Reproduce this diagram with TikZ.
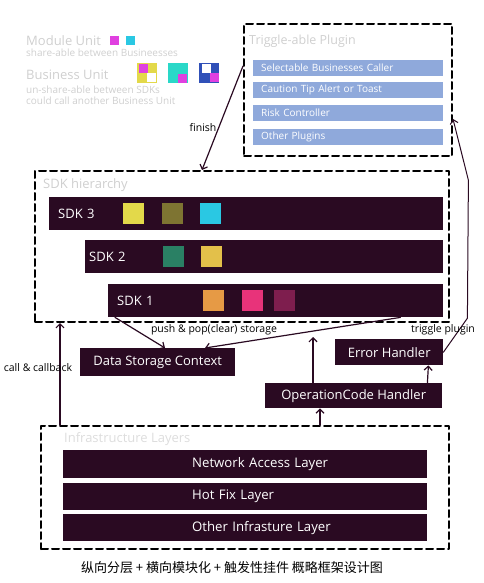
\documentclass[tikz,border=0pt]{standalone}
\usepackage{fontspec}
\setmainfont{Open Sans}
\newfontfamily\cjk{Noto Sans CJK SC}
\usetikzlibrary{arrows.meta}

\definecolor{barpurple}{HTML}{2A0A22}
\definecolor{pluginblue}{HTML}{8FA9DB}
\definecolor{softgray}{HTML}{CFCFCF}
\definecolor{unityellow}{HTML}{E3D94A}
\definecolor{unitolive}{HTML}{7E7432}
\definecolor{unitcyan}{HTML}{2AC8E3}
\definecolor{unitgreen}{HTML}{2A8064}
\definecolor{unitgold}{HTML}{E3C04A}
\definecolor{unitorange}{HTML}{E69A45}
\definecolor{unitpink}{HTML}{E8337A}
\definecolor{unitmaroon}{HTML}{7E1E4E}
\definecolor{unitmagenta}{HTML}{E040E0}
\definecolor{unitteal}{HTML}{2AD8C8}
\definecolor{unitblue}{HTML}{3050B8}

\begin{document}
\begin{tikzpicture}[x=1pt,y=-1pt,>={Straight Barb[length=4pt,width=8pt]},line cap=round,line join=round,
  grp/.style={draw=black,line width=2pt,dash pattern=on 7pt off 4pt,anchor=north west,inner sep=0pt},
  grptitle/.style={text=softgray,anchor=west,inner sep=0pt,font=\fontsize{13}{15}\selectfont},
  box/.style={fill=barpurple,text=white,anchor=north west,inner sep=0pt,font=\fontsize{13}{15}\selectfont},
  sdkbar/.style={box,minimum height=33pt,inner xsep=9pt,align=left},
  infrabar/.style={box,minimum width=364pt,text width=356pt,inner xsep=4pt,align=left,
    font=\fontsize{13.2}{15}\selectfont,execute at begin node={\hspace*{125pt}}},
  plugbar/.style={fill=pluginblue,text=white,anchor=north west,minimum height=16pt,inner sep=0pt,
    inner xsep=8pt,text width=174pt,align=left,font=\fontsize{10}{12}\selectfont},
  unit/.style={fill=#1,minimum size=21pt,anchor=north west,inner sep=0pt},
  mini/.style={fill=#1,minimum size=8.5pt,anchor=north west,inner sep=0pt},
  note/.style={font=\fontsize{10.5}{12}\selectfont,inner sep=0pt},
  legendnote/.style={text=softgray,inner sep=0pt,font=\fontsize{10}{10.5}\selectfont},
  link/.style={->,draw=barpurple,line width=1.2pt}]
\useasboundingbox (0,0) rectangle (484,583);

% legend
\node[grptitle] (modlabel) at (26,41) {Module Unit};
\node[mini=unitmagenta] (modA) at (110,36) {};
\node[mini=unitcyan] (modB) at (126,36) {};
\node[legendnote,anchor=west] (modnote) at (26,53) {share-able between Busineesses};
\node[grptitle] (buslabel) at (26,75) {Business Unit};
\node[legendnote,anchor=north west,align=left] (busnote) at (26,86)
  {un-share-able between SDKs\\could call another Business Unit};
\node[unit=unityellow,minimum size=20pt] (busA) at (137,63) {};
\node[mini=unitmagenta] (busAa) at (139,64) {};
\node[mini=white] (busAb) at (147,73) {};
\node[unit=unitteal,minimum size=20pt] (busB) at (168,63) {};
\node[mini=unitmagenta] (busBa) at (178,74) {};
\node[unit=unitblue,minimum size=20pt] (busC) at (199,63) {};
\node[mini=white] (busCa) at (202,64) {};
\node[mini=unitmagenta] (busCb) at (210,73) {};

% plugins
\node[grp,minimum width=208pt,minimum height=132pt] (plugingrp) at (243,23) {};
\node[grptitle,font=\fontsize{12.5}{15}\selectfont] (plugtitle) at (249,41) {Triggle-able Plugin};
\node[plugbar] (selcaller) at (253,60) {Selectable Businesses Caller};
\node[plugbar] (caution) at (253,82) {Caution Tip Alert or Toast};
\node[plugbar] (risk) at (253,105) {Risk Controller};
\node[plugbar] (otherplug) at (253,129) {Other Plugins};

% sdk hierarchy
\node[grp,minimum width=414pt,minimum height=151pt] (sdkgrp) at (34,170) {};
\node[grptitle] (sdktitle) at (43,185) {SDK hierarchy};
\node[sdkbar,text width=376pt] (sdk3) at (49,197) {SDK 3};
\node[unit=unityellow] (s3a) at (123,203) {};
\node[unit=unitolive] (s3b) at (162,203) {};
\node[unit=unitcyan] (s3c) at (200,203) {};
\node[sdkbar,inner xsep=4pt,text width=350pt] (sdk2) at (85,240) {SDK 2};
\node[unit=unitgreen] (s2a) at (163,246) {};
\node[unit=unitgold] (s2b) at (201,246) {};
\node[sdkbar,text width=317pt] (sdk1) at (108,284) {SDK 1};
\node[unit=unitorange] (s1a) at (203,290) {};
\node[unit=unitpink] (s1b) at (242,290) {};
\node[unit=unitmaroon] (s1c) at (274,290) {};

% handlers
\node[box,minimum width=155pt,minimum height=28pt] (store) at (80,348) {Data Storage Context};
\node[box,minimum width=108pt,minimum height=26pt] (err) at (335,339) {Error Handler};
\node[box,minimum width=177pt,minimum height=25pt] (opcode) at (265,383) {OperationCode Handler};

% infrastructure
\node[grp,minimum width=408pt,minimum height=123pt] (infragrp) at (40,425) {};
\node[grptitle,text=softgray!70!white] (infratitle) at (64,439) {Infrastructure Layers};
\node[infrabar,minimum height=28pt] (network) at (63,450) {Network Access Layer};
\node[infrabar,minimum height=27pt] (hotfix) at (63,483) {Hot Fix Layer};
\node[infrabar,minimum height=27pt] (otherinfra) at (63,514) {Other Infrasture Layer};

% connectors
\draw[link] ([yshift=24pt]plugingrp.west) -- ([xshift=168pt]sdkgrp.north west);
\node[note] (finishlbl) at (203,128) {finish};
\draw[link] ([xshift=7pt]sdk1.south west) -- ([xshift=85pt]store.north west);
\draw[link] ([xshift=-43pt]sdk1.south east) -- ([xshift=125pt]store.north west);
\node[note] (pushlbl) at (214,330) {push \& pop(clear) storage};
\draw[link] ([xshift=20pt]infragrp.north west) -- ([xshift=26pt]sdkgrp.south west);
\node[note] (calllbl) at (38,368) {call \& callback};
\draw[link] ([xshift=280pt]infragrp.north west) -- ([xshift=55pt]opcode.south west);
\draw[link,shorten >=14pt] ([xshift=48pt]opcode.north west) -- ([xshift=279pt]sdkgrp.south west);
\draw[link] ([xshift=-15pt]opcode.north east) -- ([xshift=-15pt]err.south east);
\draw[link,line width=1pt] (err.east) -- ++(24,-34) -- ++(1,-138) -- ([yshift=-29pt]plugingrp.east);
\node[note] (triglbl) at (443,330) {triggle plugin};

% caption
\node[font=\cjk\fontsize{13}{15}\selectfont,inner sep=0pt] (caption) at (232,568)
  {纵向分层 + 横向模块化 + 触发性挂件 概略框架设计图};
\end{tikzpicture}
\end{document}
